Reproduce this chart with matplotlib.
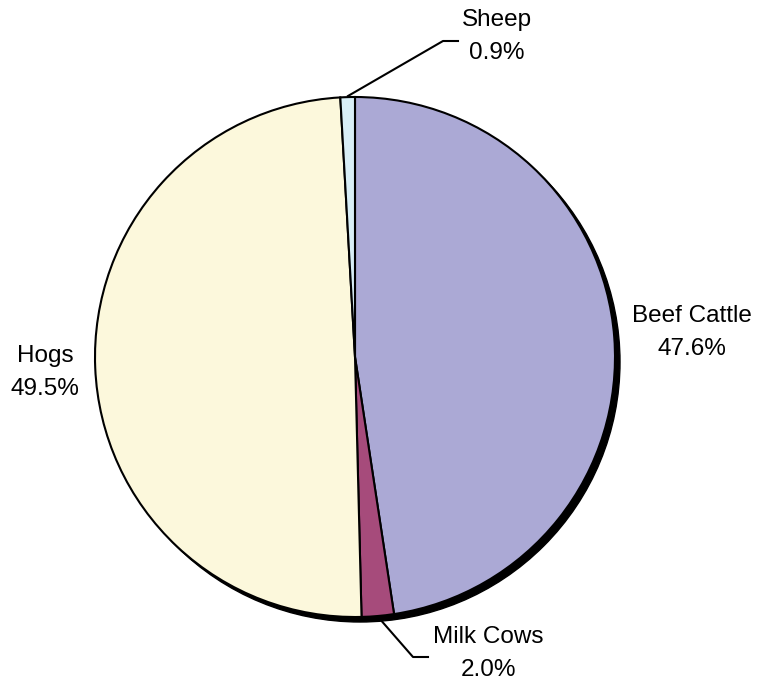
import matplotlib.pyplot as plt
from matplotlib.patches import Circle

plt.rcParams['font.family'] = ['Liberation Sans', 'DejaVu Sans']

categories = ['Beef Cattle', 'Milk Cows', 'Hogs', 'Sheep']
shares = [47.6, 2.0, 49.5, 0.9]
colors = ['#aba9d5', '#a64b7b', '#fcf8dc', '#d8eef6']

W, H = 757, 687
cx, cy, r = 355, H - 357, 260

fig = plt.figure(figsize=(W / 100, H / 100), dpi=100)
ax = fig.add_axes([0, 0, 1, 1])

# drop shadow behind the pie
ax.add_patch(Circle((cx + 5, cy - 5), r, color='black', zorder=0))

ax.pie(shares, colors=colors, startangle=90, counterclock=False,
       center=(cx, cy), radius=r, frame=True,
       wedgeprops=dict(edgecolor='black', linewidth=1.5))
ax.set_xlim(0, W)
ax.set_ylim(0, H)
ax.set_aspect('equal')
ax.axis('off')

fs = 17.5
def label(name, val, x, y):
    ax.text(x, H - y, name, ha='center', va='center', fontsize=fs)
    ax.text(x, H - y - 33, f'{val:.1f}%', ha='center', va='center', fontsize=fs)

label('Sheep', shares[3], 497, 20)
label('Beef Cattle', shares[0], 692, 316)
label('Hogs', shares[2], 45, 356)
label('Milk Cows', shares[1], 488, 637)

# leader lines for the thin slices
ax.plot([348, 443, 458], [H - 96, H - 41, H - 41], color='black', lw=1.5)
ax.plot([379, 413, 428], [H - 618, H - 657, H - 657], color='black', lw=1.5)

fig.savefig('out.png', dpi=100)
